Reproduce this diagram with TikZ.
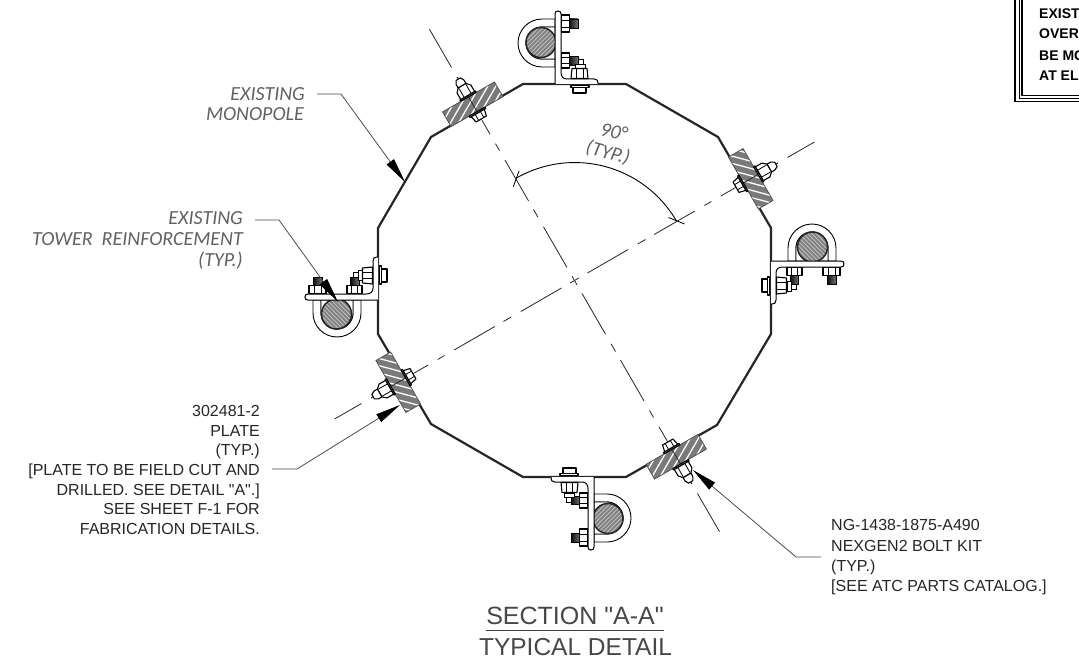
\documentclass[tikz,border=0pt]{standalone}
\usepackage{fontspec}
\setmainfont{Liberation Sans}
\newfontfamily\lsans{Liberation Sans}
\newfontfamily\cf{Carlito}
\usetikzlibrary{arrows.meta}
\tikzset{
  wall/.style={line width=2.2pt,black!85,line join=miter},
  cline/.style={line width=.8pt,black!85},
  part/.style={line width=1.1pt,black,fill=white,line join=round},
  thinpart/.style={line width=.8pt,black},
  thread/.style={line width=.5pt,black,left color=black!95,right color=black!55},
  leader/.style={line width=.8pt,black!70,-{Triangle[length=25pt,width=9pt,black]}},
  lab/.style={inner sep=0pt,font=\lsans\fontsize{16}{19.7}\selectfont,text=black!85},
  itlab/.style={inner sep=0pt,font=\cf\itshape\fontsize{20}{20}\selectfont,text=black!62},
  boxthick/.style={line width=1.9pt,black},
  boxthin/.style={line width=.9pt,black},
  notetext/.style={inner sep=0pt,anchor=base west,font=\bfseries\fontsize{14}{14}\selectfont},
}
\newcommand{\plateunit}[2]{%
  \begin{scope}[shift={(574.5,280.5)},rotate=#1]
    \begin{scope}
      \clip (-30,-212) rectangle (30,-195);
      \fill[black!52] (-30,-212) rectangle (30,-195);
      \foreach \s in {-66,-59,...,66}
        \draw[white,line width=1.3pt,rotate around={#2:(0,-203.5)}] (\s,-303) -- (\s,-103);
    \end{scope}
    \draw[line width=.7pt,black!70] (-30,-212) rectangle (30,-195);
    \draw[cline] (0,-216) -- (0,-190);
    % inner nut
    \draw[part] (-9,-195) -- (9,-195) -- (9,-193.4) -- (-9,-193.4) -- cycle;
    \draw[part] (-7.5,-193.4) -- (7.5,-193.4) -- (6,-186.5) -- (-6,-186.5) -- cycle;
    \draw[thinpart] (-3,-193.4) -- (-3,-186.5) (3,-193.4) -- (3,-186.5);
    % outer washer, nut and bolt end
    \draw[part] (-9,-212) -- (9,-212) -- (9,-213.6) -- (-9,-213.6) -- cycle;
    \draw[part] (-8,-213.6) -- (8,-213.6) -- (8,-221) -- (4.5,-225) -- (-4.5,-225) -- (-8,-221) -- cycle;
    \draw[thinpart] (-4,-213.6) -- (-4,-224) (4,-213.6) -- (4,-224);
    \draw[part] (-4.5,-225) -- (4.5,-225) -- (4.5,-229) -- (2.5,-232.5) -- (-2.5,-232.5) -- (-4.5,-229) -- cycle;
    \draw[thinpart] (0,-232.5) -- (0,-235);
  \end{scope}}
\newcommand{\ubolt}[1]{%
  \begin{scope}[rotate around={#1:(574.5,280.5)}]
    % U-bolt
    \draw[line width=.9pt,black,fill=white] (555,19) -- (542,19) arc[start angle=270,end angle=90,radius=24] -- (555,67) -- (555,59) -- (542,59) arc[start angle=90,end angle=270,radius=16] -- (555,27) -- cycle;
    \draw[line width=.9pt,black,fill=white] (542,27) arc[start angle=270,end angle=90,radius=16] -- (555,59) -- (555,27) -- cycle;
    % pipe
    \begin{scope}
      \clip (541,42.5) circle[radius=15];
      \fill[black!50] (541,42.5) circle[radius=15];
      \foreach \s in {-24,-21,...,24}
        \draw[black!25,line width=.8pt,rotate around={-45:(541,42.5)}] (541+\s,10) -- (541+\s,75);
    \end{scope}
    \draw[line width=1.5pt,black!85] (541,42.5) circle[radius=15];
    % threads
    \draw[thread] (569,19) rectangle (578,28);
    \draw[thread] (569,56.5) rectangle (578,65);
    % base bolt stub
    \draw[thinpart,fill=white] (578,59) rectangle (583,64);
    \draw[thinpart,fill=white] (575,64) rectangle (585,68);
    % nuts
    \draw[part] (561,15) rectangle (569.5,32);
    \draw[thinpart] (561,20) -- (569.5,20) (561,27) -- (569.5,27);
    \draw[part] (561,53) rectangle (569.5,68);
    \draw[thinpart] (561,57.5) -- (569.5,57.5) (561,63.5) -- (569.5,63.5);
    % angle bracket
    \draw[line width=1pt,black,fill=white] (555,84) -- (555,14) .. controls (555,12) and (556,11) .. (558,11) .. controls (560,11) and (561,12) .. (561,14) -- (561,72) .. controls (561,76.5) and (563,79) .. (567,79) -- (594,79) .. controls (597,79) and (598,80.5) .. (598,83) -- (598,84);
    % base nut
    \draw[part] (572,68.5) -- (587,68.5) -- (588,78.5) -- (571,78.5) -- cycle;
    \draw[thinpart] (576.5,68.5) -- (576.5,78.5) (583,68.5) -- (583,78.5);
    % bolt head inside the wall
    \draw[part] (571,85.5) rectangle (589,87.5);
    \draw[part] (573,87.5) rectangle (586,93);
  \end{scope}}
\begin{document}
\begin{tikzpicture}[x=1pt,y=-1pt]
\useasboundingbox (0,0) rectangle (1079,666);
\fill[white] (0,0) rectangle (1079,666);
% pole
\draw[wall] (523,84) -- (626,84) -- (718,137) -- (771,228) -- (771,334) -- (717,425) -- (626,477) -- (523,477) -- (431,424) -- (378,334) -- (378,228) -- (431,137) -- cycle;
% U-bolt assemblies
\ubolt{0}\ubolt{90}\ubolt{180}\ubolt{-90}
% plates
\plateunit{30}{-60}
\plateunit{-60}{-45}
\plateunit{-150}{-60}
\plateunit{120}{-45}
% centre lines
\begin{scope}[shift={(574.5,280.5)},rotate=30]
  \foreach \a/\b in {0/5,15/62,73/82,92/139,150/158,169/186,246/290}
    {\draw[cline] (0,-\a) -- (0,-\b); \draw[cline] (0,\a) -- (0,\b);}
\end{scope}
\begin{scope}[shift={(574.5,280.5)},rotate=-60]
  \foreach \a/\b in {0/5,15/62,73/82,92/139,150/158,169/186,246/277}
    {\draw[cline] (0,-\a) -- (0,-\b); \draw[cline] (0,\a) -- (0,\b);}
\end{scope}
% angle dimension
\coordinate (arcA) at (516,178.3);
\draw[line width=.9pt,black] (arcA) arc[start angle=240,end angle=330,radius=117.6];
\draw[line width=.8pt,black] (519,171) -- (513.3,186.7);
\draw[line width=.8pt,black] (668.5,217.5) -- (684.5,224);
\node[itlab,rotate=-12] (ang) at (614,131.5) {90°};
\node[itlab,rotate=-15] (angt) at (608,153) {(TYP.)};
% labels
\node[itlab,anchor=east] (tmono1) at (305,94) {EXISTING};
\node[itlab,anchor=east] (tmono2) at (304,114) {MONOPOLE};
\node[itlab,anchor=east] (ttow1) at (243,218) {EXISTING};
\node[itlab,anchor=east] (ttow2) at (243,239) {TOWER\ \ REINFORCEMENT};
\node[itlab,anchor=east] (ttow3) at (243,261) {(TYP.)};
\node[lab,anchor=east,align=right] (tplate) at (260,470) {302481-2\\PLATE\\(TYP.)\\{}[PLATE TO BE FIELD CUT AND\\DRILLED. SEE DETAIL "A".]\\SEE SHEET F-1 FOR\\FABRICATION DETAILS.};
\node[lab,font=\lsans\fontsize{16}{20.3}\selectfont,anchor=west,align=left] (tkit) at (831,557.5) {NG-1438-1875-A490\\NEXGEN2 BOLT KIT\\(TYP.)\\{}[SEE ATC PARTS CATALOG.]};
% leaders
\coordinate (m0) at (317,94); \coordinate (m1) at (341,94); \coordinate (mt) at (405,182);
\draw[leader] (m0) -- (m1) -- (mt);
\coordinate (r0) at (255,220); \coordinate (r1) at (279,220); \coordinate (rt) at (338,302);
\draw[leader] (r0) -- (r1) -- (rt);
\coordinate (p0) at (272,469); \coordinate (p1) at (297,469); \coordinate (pt) at (400,405);
\draw[leader] (p0) -- (p1) -- (pt);
\coordinate (k0) at (821,557); \coordinate (k1) at (796,557); \coordinate (kt) at (693,470);
\draw[leader] (k0) -- (k1) -- (kt);
% title
\node[inner sep=0pt,font=\lsans\fontsize{25}{25}\selectfont,text=black!72,anchor=base] (t1) at (575,624) {SECTION "A-A"};
\node[inner sep=0pt,font=\lsans\fontsize{24.5}{25}\selectfont,text=black!72,anchor=base] (t2) at (575.5,655.7) {TYPICAL DETAIL};
\draw[line width=.9pt,black!75] (486,630.7) -- (664,630.7);
% note box
\draw[boxthick] (1015,-3) -- (1015,101.5) -- (1082,101.5);
\draw[boxthin] (1019,-3) -- (1019,98.5) -- (1082,98.5);
\draw[boxthick] (1022,-3) -- (1022,95.5) -- (1082,95.5);
\node[notetext] (n1) at (1039,18.5) {EXIST};
\node[notetext] (n2) at (1039,39) {OVER};
\node[notetext] (n3) at (1039,60.5) {BE MO};
\node[notetext] (n4) at (1039,81) {AT EL};
\end{tikzpicture}
\end{document}
